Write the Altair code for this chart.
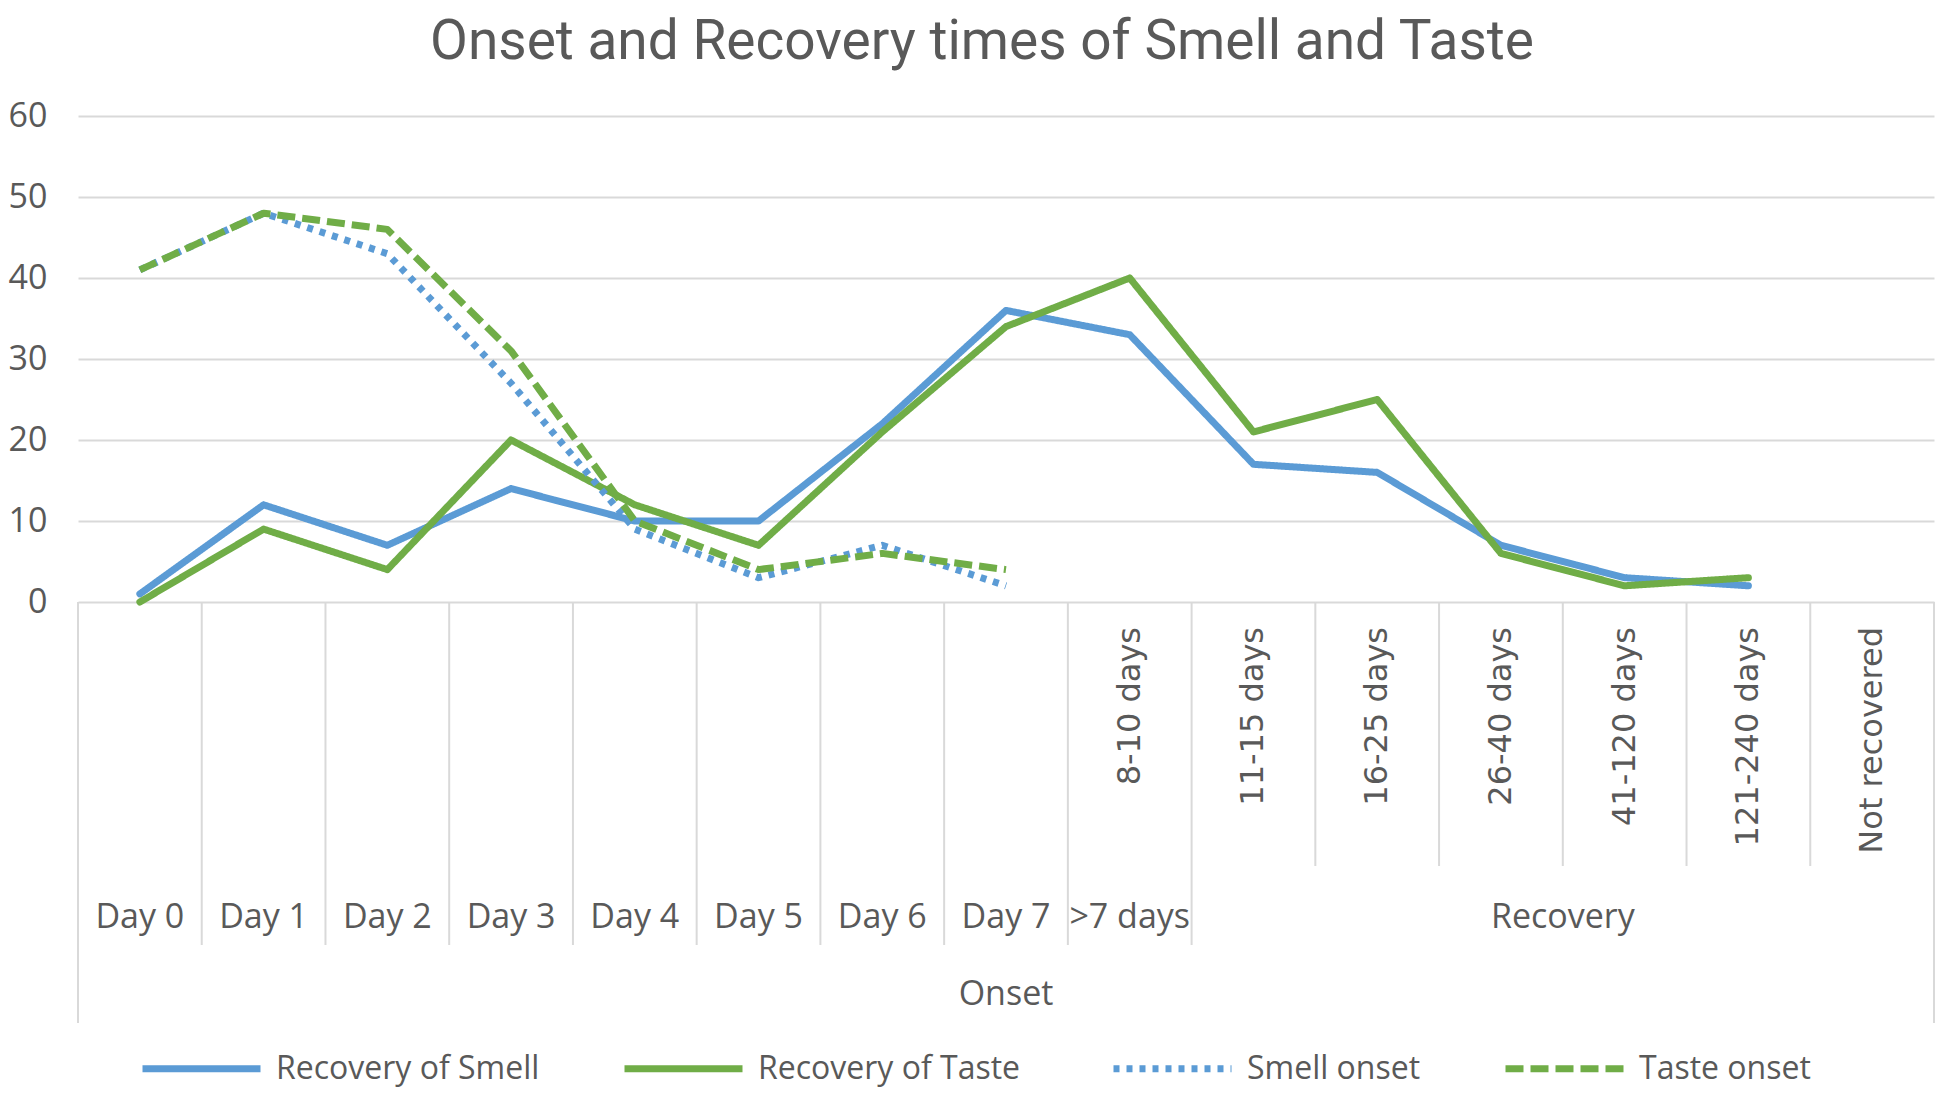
import altair as alt
import pandas as pd

# ---------------- data ----------------
categories = ["Day 0", "Day 1", "Day 2", "Day 3", "Day 4", "Day 5", "Day 6", "Day 7",
              "8-10 days", "11-15 days", "16-25 days", "26-40 days", "41-120 days",
              "121-240 days", "Not recovered"]

recovery_smell = [1, 12, 7, 14, 10, 10, 22, 36, 33, 17, 16, 7, 3, 2, None]
recovery_taste = [0, 9, 4, 20, 12, 7, 21, 34, 40, 21, 25, 6, 2, 3, None]
smell_onset = [41, 48, 43, 27, 9, 3, 7, 2, None, None, None, None, None, None, None]
taste_onset = [41, 48, 46, 31, 10, 4, 6, 4, None, None, None, None, None, None, None]

series_names = ["Recovery of Smell", "Recovery of  Taste", "Smell onset", "Taste onset"]

# inner (rotated) labels
level1_labels = ["", "", "", "", "", "", "", "",
                 "8-10 days", "11-15 days", "16-25 days", "26-40 days", "41-120 days",
                 "121-240 days", "Not recovered"]
# (label, first category index, last category index)
level2_groups = [("Day 0", 0, 0), ("Day 1", 1, 1), ("Day 2", 2, 2), ("Day 3", 3, 3),
                 ("Day 4", 4, 4), ("Day 5", 5, 5), ("Day 6", 6, 6), ("Day 7", 7, 7),
                 (">7 days", 8, 8), ("Recovery", 9, 14)]
level3_groups = [("Onset", 0, 14)]

y_ticks = [0, 10, 20, 30, 40, 50, 60]

# ---------------- styles ----------------
BLUE = "#5B9BD5"
GREEN = "#70AD47"
GRID = "#D9D9D9"
TXT = "#595959"
FONT = "Open Sans"
W, H = 1856, 486

series_colors = [BLUE, GREEN, BLUE, GREEN]
series_dashes = [[1, 0], [1, 0], [6, 7], [18, 7]]

n = len(categories)
xs = alt.Scale(domain=[-0.5, n - 0.5], nice=False, zero=False)
ys = alt.Scale(domain=[0, 60], nice=False, zero=True)

rows = []
for name, vals in zip(series_names, [recovery_smell, recovery_taste, smell_onset, taste_onset]):
    for i, v in enumerate(vals):
        if v is not None:
            rows.append({"idx": i, "category": categories[i], "series": name, "value": v})
lines_df = pd.DataFrame(rows)

leg = alt.Legend(
    orient="none", legendX=61, legendY=890, direction="horizontal",
    symbolType="stroke", symbolSize=118 ** 2, symbolStrokeWidth=7,
    labelFont=FONT, labelFontSize=32, labelColor=TXT, labelOffset=12,
    columnPadding=70, labelLimit=0, padding=0, title=None,
)

color_enc = alt.Color("series:N", scale=alt.Scale(domain=series_names, range=series_colors),
                      legend=leg, title=None)
dash_enc = alt.StrokeDash("series:N", scale=alt.Scale(domain=series_names, range=series_dashes),
                          legend=leg, title=None)

y_axis = alt.Axis(values=y_ticks, domain=False, ticks=False, grid=True, gridColor=GRID,
                  gridWidth=2, labelFont=FONT, labelFontSize=34, labelColor=TXT,
                  labelPadding=31, title=None)

base_line = alt.Chart(lines_df).encode(
    x=alt.X("idx:Q", scale=xs, axis=None),
    y=alt.Y("value:Q", scale=ys, axis=y_axis),
    color=color_enc,
    strokeDash=dash_enc,
)
solid = base_line.transform_filter(
    alt.FieldOneOfPredicate(field="series", oneOf=series_names[:2])
).mark_line(strokeWidth=7, strokeCap="round", strokeJoin="round")
onset = base_line.transform_filter(
    alt.FieldOneOfPredicate(field="series", oneOf=series_names[2:])
).mark_line(strokeWidth=7, strokeCap="butt", strokeJoin="round")

# ---------------- multi-level category axis ----------------
l2_edges = set()
for _, s, e in level2_groups:
    l2_edges.update([s, e + 1])
l3_edges = set()
for _, s, e in level3_groups:
    l3_edges.update([s, e + 1])
rule_df = pd.DataFrame([
    {"pos": b - 0.5, "depth": 3 if b in l3_edges else (2 if b in l2_edges else 1)}
    for b in range(n + 1)
])
depth_px = {1: 264, 2: 343, 3: 421}

rules = []
for d, px in depth_px.items():
    rules.append(
        alt.Chart(rule_df).transform_filter(alt.datum.depth == d).mark_rule(
            color=GRID, strokeWidth=2
        ).encode(
            x=alt.X("pos:Q", scale=xs, axis=None),
            y=alt.value(H),
            y2=alt.value(H + px),
        )
    )

lvl1_df = pd.DataFrame([{"idx": i, "label": lab} for i, lab in enumerate(level1_labels) if lab])
lvl1 = alt.Chart(lvl1_df).mark_text(
    angle=270, align="right", baseline="middle", font="DejaVu Sans", fontSize=32, color=TXT
).encode(x=alt.X("idx:Q", scale=xs, axis=None), y=alt.value(H + 25), text="label:N")

lvl2_df = pd.DataFrame([{"pos": (s + e) / 2, "label": lab} for lab, s, e in level2_groups])
lvl2 = alt.Chart(lvl2_df).mark_text(
    align="center", baseline="middle", font=FONT, fontSize=34, color=TXT
).encode(x=alt.X("pos:Q", scale=xs, axis=None), y=alt.value(H + 316), text="label:N")

lvl3_df = pd.DataFrame([{"pos": (s + e) / 2, "label": lab} for lab, s, e in level3_groups])
lvl3 = alt.Chart(lvl3_df).mark_text(
    align="center", baseline="middle", font=FONT, fontSize=34, color=TXT
).encode(x=alt.X("pos:Q", scale=xs, axis=None), y=alt.value(H + 393), text="label:N")

chart = alt.layer(*rules, lvl1, lvl2, lvl3, solid, onset).properties(
    width=W, height=H,
    title=alt.TitleParams(
        text="Onset and Recovery times of Smell and Taste", font="Roboto", fontSize=55,
        fontWeight="normal", color=TXT, anchor="middle", dx=-24, offset=-15,
        baseline="alphabetic",
    ),
    autosize=alt.AutoSizeParams(type="none"),
    padding={"left": 70, "top": 108, "right": 1, "bottom": 492},
).configure_view(stroke=None)

chart.save("out.html", embed_options={"renderer": "svg", "actions": False})
